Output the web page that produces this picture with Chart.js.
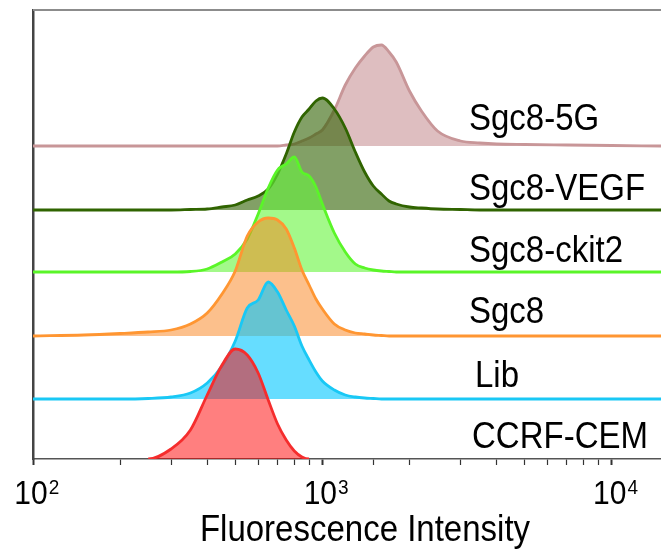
<!DOCTYPE html>
<html>
<head>
<meta charset="utf-8">
<style>
  html, body { margin: 0; padding: 0; background: #fff; }
</style>
<script src="https://cdn.jsdelivr.net/npm/chart.js@4.4.1/dist/chart.umd.min.js"></script>
</head>
<body>
<canvas id="histChart" width="661" height="552"></canvas>
<script>
// fluorescence channel values (shared x grid)
const intensity = [100, 150, 200, 250, 300, 350, 400, 450, 500, 550, 600, 650, 700, 750, 800, 850, 900, 950, 1000,
  1100, 1200, 1300, 1400, 1500, 1600, 1700, 1800, 2000, 2200, 2500, 3000, 3500, 4000, 5000, 7000, 10000, 14800];

// counts per sample
const ccrfCem = [0, 0, 0, 0, 10, 29, 64, 94, 110, 104, 86, 59, 35, 19, 8, 2, 0, 0, 0,
  0, 0, 0, 0, 0, 0, 0, 0, 0, 0, 0, 0, 0, 0, 0, 0, 0, 0];
const lib = [0, 0, 0, 0.5, 2, 6, 16, 33, 58, 91, 99, 117, 107, 89, 73, 53, 39, 27, 18,
  9, 4, 2, 1, 0.5, 0, 0, 0, 0, 0, 0, 0, 0, 0, 0, 0, 0, 0];
const sgc8 = [0, 1, 2.5, 4, 6, 12, 23, 42, 65, 100, 114, 118, 116, 107, 88, 66, 51, 37, 27,
  12, 6, 3, 2, 1, 0.5, 0, 0, 0, 0, 0, 0, 0, 0, 0, 0, 0, 0];
const sgc8Ckit2 = [0, 0, 0, 0, 0, 0.5, 3, 10, 18, 33, 58, 84, 102, 108, 115, 100, 96, 85, 68,
  39, 20, 8, 4, 2, 1, 0.5, 0, 0, 0, 0, 0, 0, 0, 0, 0, 0, 0];
const sgc8Vegf = [0, 0, 0, 0, 0, 0.5, 1, 3, 5, 10, 14, 21, 36, 56, 78, 93, 101, 109, 112,
  101, 82, 58, 38, 24, 16, 9, 6, 3, 2, 1, 0.5, 0, 0, 0, 0, 0, 0];
const sgc8_5g = [0, 0, 0, 0, 0, 0, 0, 0, 0, 0, 0, 0, 0, 1, 2, 5, 8, 12, 16,
  36, 61, 78, 90, 99, 101, 94, 84, 55, 35, 15, 5, 3, 2, 1.5, 1, 0.5, 0];

const sampleNames = ['CCRF-CEM', 'Lib', 'Sgc8', 'Sgc8-ckit2', 'Sgc8-VEGF', 'Sgc8-5G'];
const decades = [100, 1000, 10000];
const exponents = ['2', '3', '4'];

// layout: vertical stacking of the histograms and label placement
const laneOffsets = [0, 60, 123, 187, 249, 313];
const labelX = [472, 475, 469, 469, 469, 469];
const labelY = [448, 387, 323, 262, 200, 130];

const lineColors = ['rgb(245,45,45)', 'rgb(25,200,245)', 'rgb(255,150,50)', 'rgb(90,245,40)', 'rgb(48,100,0)', 'rgb(200,150,152)'];
const fillColors = ['rgba(255,0,0,0.5)', 'rgba(0,198,255,0.6)', 'rgba(250,130,25,0.5)', 'rgba(102,245,60,0.6)', 'rgba(47,97,0,0.6)', 'rgba(190,125,130,0.5)'];

const FONT = '"Liberation Sans", Arial, sans-serif';

const series = [ccrfCem, lib, sgc8, sgc8Ckit2, sgc8Vegf, sgc8_5g];

const datasets = series.map((vals, i) => ({
  label: sampleNames[i],
  data: intensity.map((x, j) => ({ x: x, y: laneOffsets[i] + vals[j] })),
  borderColor: lineColors[i],
  backgroundColor: fillColors[i],
  borderWidth: 2.8,
  pointRadius: 0,
  cubicInterpolationMode: 'monotone',
  borderJoinStyle: 'round',
  clip: 0,
  fill: { value: laneOffsets[i] },
  // the lowest trace sits on the x axis, so its flat baseline is not drawn
  segment: i === 0 ? {
    borderColor: c => (c.p0.parsed.y === 0 && c.p1.parsed.y === 0 ? 'rgba(0,0,0,0)' : undefined)
  } : undefined
}));

// text in the figure is a bit taller than the plain font
function tallText(ctx, txt, x, y, size, align) {
  ctx.save();
  ctx.translate(x, y);
  ctx.scale(1, 1.1);
  ctx.font = size + 'px ' + FONT;
  ctx.textAlign = align;
  ctx.fillText(txt, 0, 0);
  ctx.restore();
}

const decor = {
  id: 'decor',
  afterDraw(chart) {
    const ctx = chart.ctx;
    const a = chart.chartArea;
    const xs = chart.scales.x;
    ctx.save();
    // top frame line
    ctx.strokeStyle = '#8c8c8c';
    ctx.lineWidth = 2;
    ctx.beginPath();
    ctx.moveTo(a.left, a.top);
    ctx.lineTo(a.right, a.top);
    ctx.stroke();

    ctx.fillStyle = '#000';
    ctx.textBaseline = 'alphabetic';
    decades.forEach((v, i) => {
      const px = xs.getPixelForValue(v);
      ctx.font = '30px ' + FONT;
      const w = ctx.measureText('10').width;
      tallText(ctx, '10', px - 2, 504, 30, 'center');
      tallText(ctx, exponents[i], px - 2 + w / 2 + 1, 494, 19, 'left');
    });

    tallText(ctx, 'Fluorescence Intensity', 365, 541, 33, 'center');
    sampleNames.forEach((n, i) => tallText(ctx, n, labelX[i], labelY[i], 33, 'left'));
    ctx.restore();
  }
};

new Chart(document.getElementById('histChart'), {
  type: 'line',
  data: { datasets: datasets },
  options: {
    responsive: false,
    animation: false,
    layout: { padding: { left: 33, top: 10, right: 0, bottom: 87 } },
    plugins: { legend: { display: false }, tooltip: { enabled: false } },
    scales: {
      x: {
        type: 'logarithmic',
        min: 100,
        max: 14800,
        z: 1,
        afterBuildTicks: scale => {
          scale.ticks = scale.ticks.filter(t => t.value <= 10000);
        },
        grid: {
          display: true,
          drawOnChartArea: false,
          drawTicks: true,
          tickLength: 6,
          tickColor: '#333',
          tickWidth: c => (c.tick && c.tick.major ? 2 : 1.2)
        },
        border: { display: true, color: '#555', width: 1.5 },
        ticks: { display: false, major: { enabled: true } }
      },
      y: {
        min: 0,
        max: 449,
        z: 1,
        grid: { display: false, drawTicks: false },
        border: { display: true, color: '#444', width: 2.5 },
        ticks: { display: false }
      }
    }
  },
  plugins: [decor]
});
</script>
</body>
</html>
